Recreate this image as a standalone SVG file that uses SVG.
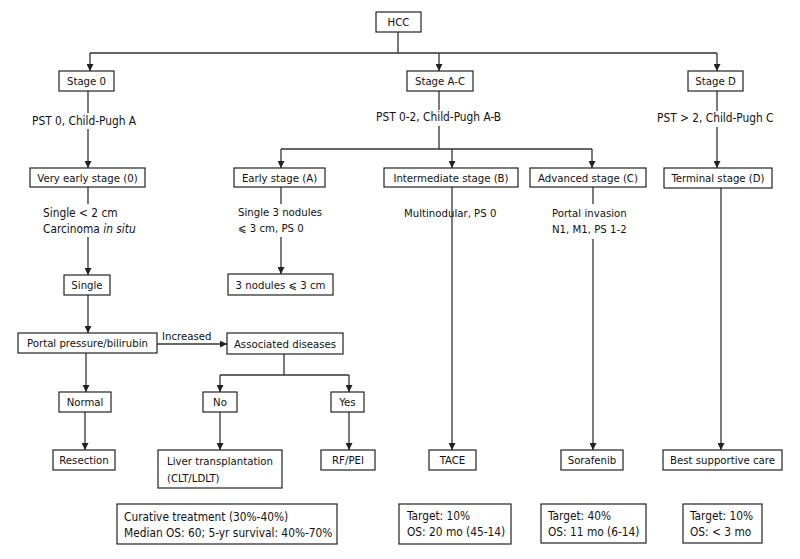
<svg xmlns="http://www.w3.org/2000/svg" width="800" height="559" viewBox="0 0 800 559">
<defs>
<marker id="ah" markerUnits="userSpaceOnUse" markerWidth="8" markerHeight="7" refX="7" refY="3.5" orient="auto">
<path d="M0,0 L7,3.5 L0,7 z" fill="#222"/>
</marker>
<style>
.box{fill:#fff;stroke:#222;stroke-width:1.2}
.t{font-family:"DejaVu Sans Condensed","DejaVu Sans",sans-serif;font-size:11.3px;fill:#111}
.w{font-size:11.8px}
.c{text-anchor:middle}
.ln{fill:none;stroke:#333;stroke-width:1.3}
.ar{marker-end:url(#ah)}
.bg{fill:#fff}
</style>
</defs>
<rect width="800" height="559" fill="#fff"/>

<g id="connectors">
<path class="ln" d="M398,32 V53 M90,53 H717"/>
<path class="ln ar" d="M90,53 V71"/>
<path class="ln ar" d="M439,53 V71"/>
<path class="ln ar" d="M717,53 V71"/>
<path class="ln ar" d="M88,91 V168"/>
<path class="ln" d="M439,91 V149 M281,149 H592"/>
<path class="ln ar" d="M281,149 V168"/>
<path class="ln ar" d="M452,149 V168"/>
<path class="ln ar" d="M592,149 V168"/>
<path class="ln ar" d="M717,91 V168"/>
<path class="ln ar" d="M88,187 V275"/>
<path class="ln ar" d="M281,187 V274"/>
<path class="ln ar" d="M88,295 V333"/>
<path class="ln ar" d="M157,344 H227"/>
<path class="ln ar" d="M86,353 V392"/>
<path class="ln ar" d="M85,412 V450"/>
<path class="ln" d="M284,354 V375 M220,375 H349"/>
<path class="ln ar" d="M220,375 V392"/>
<path class="ln ar" d="M349,375 V392"/>
<path class="ln ar" d="M220,412 V450"/>
<path class="ln ar" d="M349,412 V450"/>
<path class="ln ar" d="M452,187 V450"/>
<path class="ln ar" d="M593,187 V450"/>
<path class="ln ar" d="M721,188 V450"/>
</g>

<g id="labels">
<rect class="bg" x="30" y="113" width="108" height="16"/>
<text class="t w" x="32" y="125">PST 0, Child-Pugh A</text>
<rect class="bg" x="374" y="110" width="130" height="16"/>
<text class="t w" x="376" y="121">PST 0-2, Child-Pugh A-B</text>
<rect class="bg" x="655" y="111" width="121" height="16"/>
<text class="t w" x="657" y="122">PST &gt; 2, Child-Pugh C</text>
<rect class="bg" x="41" y="204" width="96" height="33"/>
<text class="t w" x="43" y="217">Single &lt; 2 cm</text>
<text class="t w" x="43" y="233">Carcinoma <tspan font-style="italic">in situ</tspan></text>
<rect class="bg" x="236" y="204" width="88" height="33"/>
<text class="t" x="238" y="216">Single 3 nodules</text>
<text class="t" x="238" y="232">⩽ 3 cm, PS 0</text>
<text class="t" x="404" y="217">Multinodular, PS 0</text>
<rect class="bg" x="550" y="204" width="82" height="35"/>
<text class="t" x="552" y="217">Portal invasion</text>
<text class="t" x="552" y="233">N1, M1, PS 1-2</text>
<text class="t" x="162" y="340">Increased</text>
</g>

<g id="hcc"><rect class="box" x="376" y="12" width="45" height="20"/><text class="t c" x="398.5" y="26">HCC</text></g>
<g id="stage0"><rect class="box" x="59" y="71" width="55" height="20"/><text class="t c" x="86.5" y="85">Stage 0</text></g>
<g id="stageAC"><rect class="box" x="407" y="71" width="66" height="20"/><text class="t c" x="440" y="85">Stage A-C</text></g>
<g id="stageD"><rect class="box" x="688" y="71" width="55" height="20"/><text class="t c" x="715.5" y="85">Stage D</text></g>
<g id="veryearly"><rect class="box" x="30" y="168" width="115" height="19"/><text class="t c" x="87.5" y="181.5">Very early stage (0)</text></g>
<g id="early"><rect class="box" x="234" y="168" width="91" height="19"/><text class="t c" x="279.5" y="181.5">Early stage (A)</text></g>
<g id="intermediate"><rect class="box" x="384" y="168" width="134" height="19"/><text class="t c" x="451" y="181.5">Intermediate stage (B)</text></g>
<g id="advanced"><rect class="box" x="530" y="168" width="116" height="19"/><text class="t c" x="588" y="181.5">Advanced stage (C)</text></g>
<g id="terminal"><rect class="box" x="664" y="168" width="108" height="20"/><text class="t c" x="718" y="182">Terminal stage (D)</text></g>
<g id="single"><rect class="box" x="64" y="275" width="46" height="20"/><text class="t c" x="87" y="289">Single</text></g>
<g id="threenodules"><rect class="box" x="228" y="274" width="105" height="21"/><text class="t c" x="280.5" y="288.5">3 nodules ⩽ 3 cm</text></g>
<g id="portal"><rect class="box" x="18" y="333" width="139" height="20"/><text class="t c" x="87.5" y="347">Portal pressure/bilirubin</text></g>
<g id="associated"><rect class="box" x="227" y="333" width="116" height="21"/><text class="t c" x="285" y="347.5">Associated diseases</text></g>
<g id="normal"><rect class="box" x="59" y="392" width="52" height="20"/><text class="t c" x="85" y="406">Normal</text></g>
<g id="no"><rect class="box" x="203" y="392" width="34" height="20"/><text class="t c" x="220" y="406">No</text></g>
<g id="yes"><rect class="box" x="331" y="392" width="33" height="20"/><text class="t c" x="347.5" y="406">Yes</text></g>
<g id="resection"><rect class="box" x="53" y="450" width="62" height="20"/><text class="t c" x="84" y="464">Resection</text></g>
<g id="liver"><rect class="box" x="158" y="450" width="124" height="38"/><text class="t" x="167" y="465">Liver transplantation</text><text class="t" x="167" y="482">(CLT/LDLT)</text></g>
<g id="rfpei"><rect class="box" x="321" y="450" width="54" height="20"/><text class="t c" x="348" y="464">RF/PEI</text></g>
<g id="tace"><rect class="box" x="429" y="450" width="47" height="20"/><text class="t c" x="452.5" y="464">TACE</text></g>
<g id="sorafenib"><rect class="box" x="561" y="450" width="62" height="20"/><text class="t c" x="592" y="464">Sorafenib</text></g>
<g id="bsc"><rect class="box" x="663" y="450" width="119" height="20"/><text class="t c" x="722.5" y="464">Best supportive care</text></g>
<g id="curative"><rect class="box" x="117" y="504" width="220" height="40"/><text class="t w" x="124" y="521">Curative treatment (30%-40%)</text><text class="t w" x="124" y="537">Median OS: 60; 5-yr survival: 40%-70%</text></g>
<g id="taceout"><rect class="box" x="399" y="504" width="112" height="40"/><text class="t w" x="407" y="520">Target: 10%</text><text class="t w" x="407" y="536">OS: 20 mo (45-14)</text></g>
<g id="sorafout"><rect class="box" x="541" y="504" width="105" height="39"/><text class="t w" x="548" y="520">Target: 40%</text><text class="t w" x="548" y="536">OS: 11 mo (6-14)</text></g>
<g id="bscout"><rect class="box" x="683" y="504" width="79" height="39"/><text class="t w" x="690" y="520">Target: 10%</text><text class="t w" x="690" y="536">OS: &lt; 3 mo</text></g>
</svg>
